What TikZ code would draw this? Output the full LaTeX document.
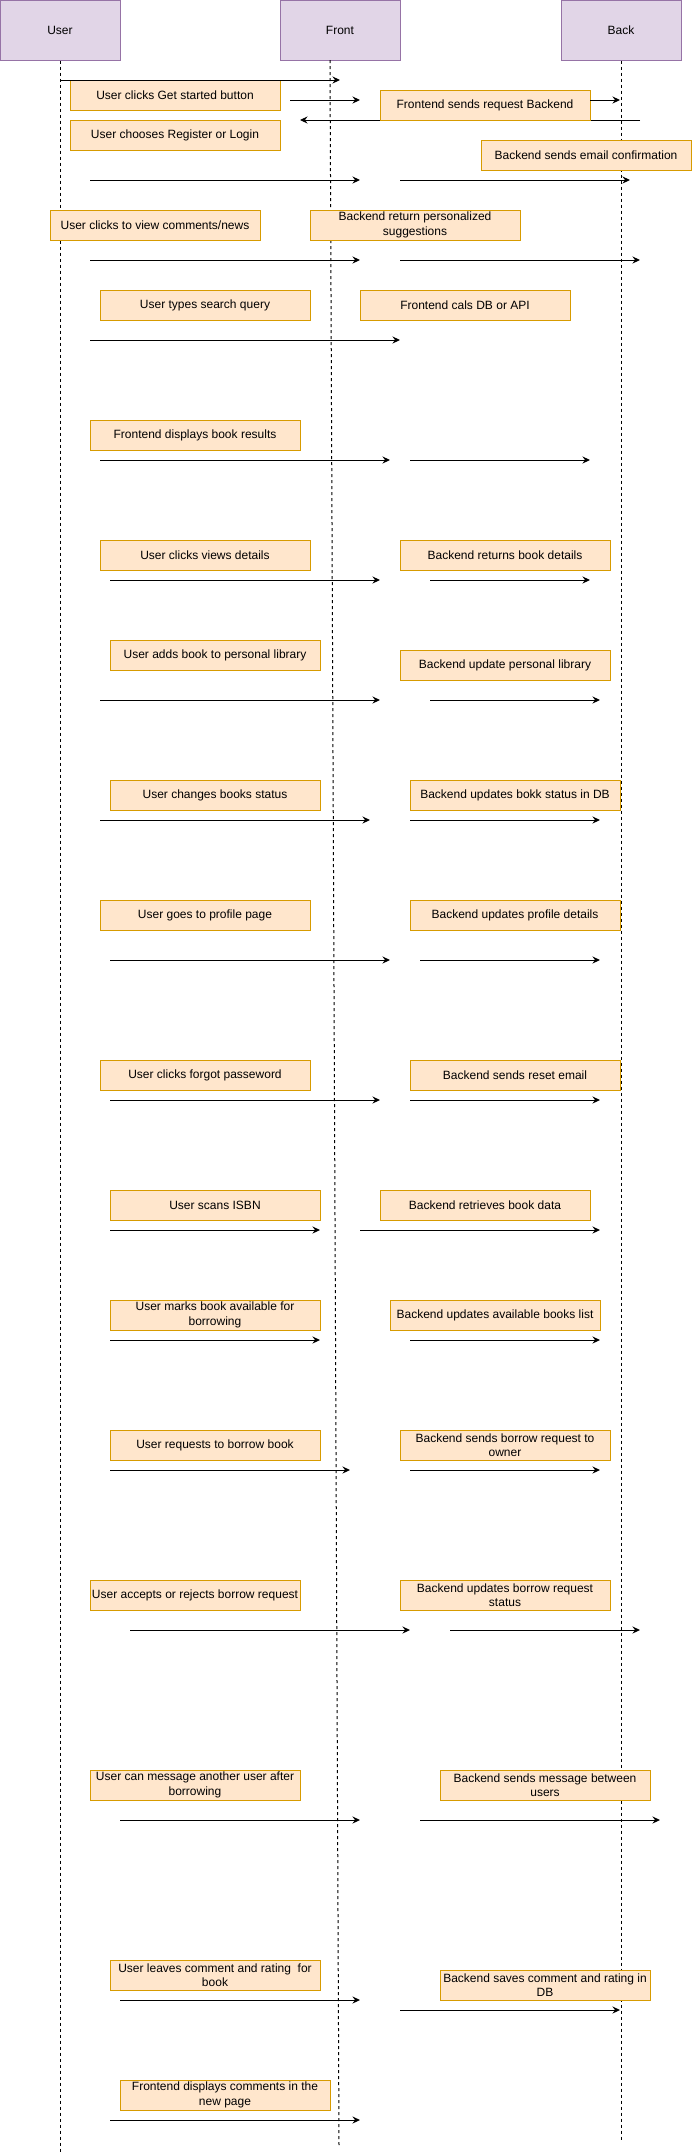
\documentclass[tikz,border=0pt]{standalone}
\usepackage{fontspec}
\setmainfont{Liberation Sans}
\usepackage{xcolor}
\usepackage{tikz}
\usetikzlibrary{arrows.meta}
\definecolor{actorfill}{HTML}{E1D5E7}
\definecolor{actorline}{HTML}{9673A6}
\definecolor{stepfill}{HTML}{FFE6CC}
\definecolor{stepline}{HTML}{D79B00}

\begin{document}
\begin{tikzpicture}[x=1pt, y=-1pt,
    actor/.style={draw=actorline, fill=actorfill, line width=1pt, minimum width=120pt, minimum height=60pt, inner sep=0pt, font=\fontsize{12}{14.4}\selectfont},
    stepbox/.style={draw=stepline, fill=stepfill, line width=1pt, minimum width=210pt, minimum height=30pt, inner sep=0pt, align=center, font=\fontsize{12}{14.4}\selectfont},
    lifeline/.style={line width=1pt, dash pattern=on 3pt off 3pt},
    msg/.style={-{Stealth[length=7.5pt, width=7pt, inset=2.5pt]}, line width=1pt}]
    \useasboundingbox (0,0) rectangle (691,2156);

    \node[actor] (user) at (60,30) {User};
    \node[actor] (front) at (340,30) {Front};
    \node[actor] (back) at (621,30) {Back};

    \coordinate (fronttop) at (330,60);
    \coordinate (userend) at (60,2153);
    \coordinate (frontend) at (339,2145);
    \coordinate (backend) at (621,2141);
    \draw[lifeline] (user.south) -- (userend);
    \draw[lifeline] (fronttop) -- (frontend);
    \draw[lifeline] (back.south) -- (backend);

    \coordinate (replyfrom) at (640,120);
    \coordinate (replyto) at (300,120);
    \draw[msg] (replyfrom) -- (replyto);

    \node[stepbox] (getstarted) at (175,95) {User clicks Get started button};
    \node[stepbox] (sendreq) at (485,105) {Frontend sends request Backend};
    \node[stepbox] (register) at (175,135) {User chooses Register or Login};
    \node[stepbox] (confirm) at (586,155) {Backend sends email confirmation};
    \node[stepbox] (viewnews) at (155,225) {User clicks to view comments/news};
    \node[stepbox] (suggest) at (415,225) {Backend return personalized\\suggestions};
    \node[stepbox] (search) at (205,305) {User types search query};
    \node[stepbox] (callapi) at (465,305) {Frontend cals DB or API};
    \node[stepbox] (results) at (195,435) {Frontend displays book results};
    \node[stepbox] (details) at (205,555) {User clicks views details};
    \node[stepbox] (retdetails) at (505,555) {Backend returns book details};
    \node[stepbox] (addbook) at (215,655) {User adds book to personal library};
    \node[stepbox] (updlibrary) at (505,665) {Backend update personal library};
    \node[stepbox] (status) at (215,795) {User changes books status};
    \node[stepbox] (updstatus) at (515,795) {Backend updates bokk status in DB};
    \node[stepbox] (profile) at (205,915) {User goes to profile page};
    \node[stepbox] (updprofile) at (515,915) {Backend updates profile details};
    \node[stepbox] (forgot) at (205,1075) {User clicks forgot passeword};
    \node[stepbox] (reset) at (515,1075) {Backend sends reset email};
    \node[stepbox] (isbn) at (215,1205) {User scans ISBN};
    \node[stepbox] (bookdata) at (485,1205) {Backend retrieves book data};
    \node[stepbox] (available) at (215,1315) {User marks book available for\\borrowing};
    \node[stepbox] (updavailable) at (495,1315) {Backend updates available books list};
    \node[stepbox] (borrow) at (215,1445) {User requests to borrow book};
    \node[stepbox] (toowner) at (505,1445) {Backend sends borrow request to\\owner};
    \node[stepbox] (accept) at (195,1595) {User accepts or rejects borrow request};
    \node[stepbox] (updrequest) at (505,1595) {Backend updates borrow request\\status};
    \node[stepbox] (message) at (195,1785) {User can message another user after\\borrowing};
    \node[stepbox] (sendmsg) at (545,1785) {Backend sends message between\\users};
    \node[stepbox] (comment) at (215,1975) {User leaves comment and rating~ for\\book};
    \node[stepbox] (savecomment) at (545,1985) {Backend saves comment and rating in\\DB};
    \node[stepbox] (showcomments) at (225,2095) {Frontend displays comments in the\\new page};

    \foreach \y/\xa/\xb [count=\i] in {80/60/340, 100/290/360, 100/590/620, 180/90/360, 180/400/630,
        260/90/360, 260/400/640, 340/90/400, 460/100/390, 460/410/590, 580/110/380, 580/430/590,
        700/100/380, 700/430/600, 820/100/370, 820/410/600, 960/110/390, 960/420/600,
        1100/110/380, 1100/410/600, 1230/110/320, 1230/360/600, 1340/110/320, 1340/410/600,
        1470/110/350, 1470/410/600, 1630/130/410, 1630/450/640, 1820/120/360, 1820/420/660,
        2000/120/360, 2010/400/620, 2120/110/360} {
        \coordinate (from\i) at (\xa,\y);
        \coordinate (to\i) at (\xb,\y);
        \draw[msg] (from\i) -- (to\i);
    }
\end{tikzpicture}
\end{document}
